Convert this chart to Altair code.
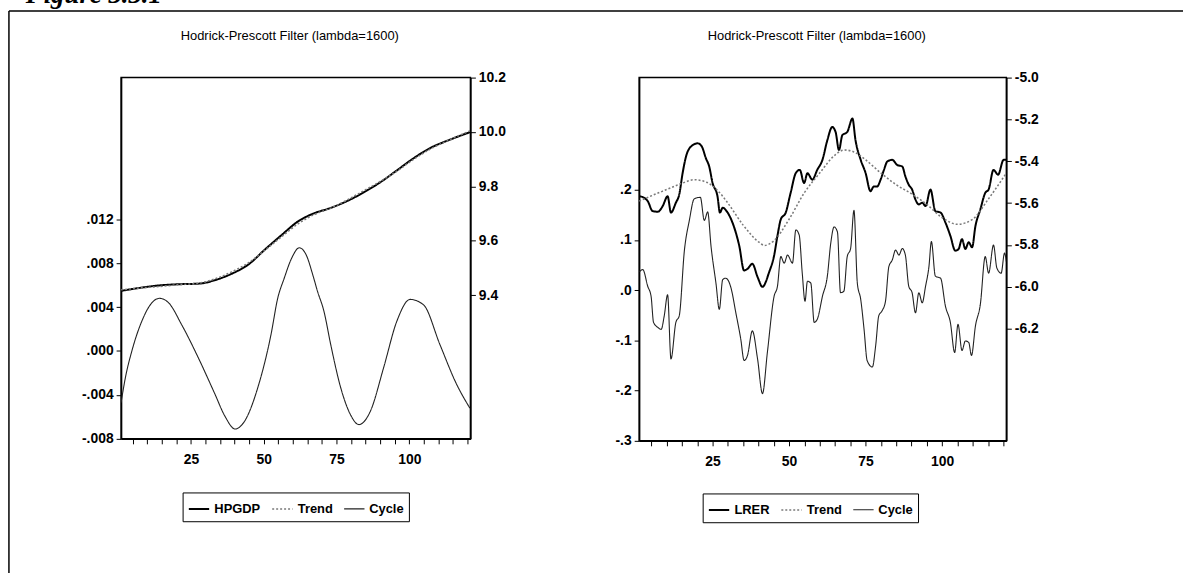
import altair as alt
import pandas as pd

TITLE = "Hodrick-Prescott Filter (lambda=1600)"
FIG_LABEL = "Figure 3.3.1"
FONT = "Liberation Sans Narrow, Arial Narrow, Liberation Sans, Arial"

# ---------------- Left panel: HPGDP ----------------
gdp_obs = [1, 8, 14, 20, 28, 34, 39, 45, 50, 56, 62, 67, 73, 79, 84, 90, 96, 101, 107, 114, 121]
gdp_val = [9.416, 9.428, 9.436, 9.440, 9.443, 9.458, 9.479, 9.515, 9.564, 9.620, 9.673,
           9.700, 9.721, 9.748, 9.776, 9.815, 9.861, 9.900, 9.940, 9.972, 10.0]

gdp_trend_obs = [1, 8, 14, 20, 28, 34, 39, 45, 50, 56, 62, 67, 73, 79, 84, 90, 96, 101, 107, 114, 121]
gdp_trend_val = [9.420, 9.427, 9.432, 9.438, 9.445, 9.463, 9.486, 9.521, 9.562, 9.614, 9.664,
                 9.695, 9.720, 9.752, 9.782, 9.818, 9.858, 9.896, 9.936, 9.972, 10.005]

gdp_cycle_obs = [1, 2.5, 4.7, 8.1, 11.6, 14.2, 17.3, 21.8, 27.5, 33.2, 36.6, 40.2, 43.4, 48.0,
                 52.5, 54.8, 57.0, 59.5, 62.2, 64.5, 67.0, 68.4, 70.7, 73.0, 76.4, 79.8, 82.7,
                 86.6, 91.2, 95.7, 100.3, 104.9, 110.5, 116.2, 120.8]
gdp_cycle_val = [-0.0047, -0.0024, 0.0000, 0.0027, 0.0044, 0.0048, 0.0044, 0.0024, -0.0006,
                 -0.0039, -0.0059, -0.0071, -0.0064, -0.0033, 0.0015, 0.0048, 0.0066, 0.0084,
                 0.0094, 0.0088, 0.0068, 0.0055, 0.0036, 0.0006, -0.0033, -0.0058, -0.0067,
                 -0.0055, -0.0015, 0.0027, 0.0047, 0.0042, 0.0006, -0.0030, -0.0052]

# ---------------- Right panel: LRER ----------------
rer_obs = [1.1, 2.7, 3.8, 5.4, 7.1, 8.7, 10.3, 11.4, 13.0, 14.1,
           15.2, 16.3, 17.9, 20.1, 21.5, 22.8, 23.9, 25.0, 26.6, 27.4,
           28.3, 29.9, 31.5, 33.7, 35.3, 36.4, 38.0, 39.7, 41.3, 43.5,
           45.1, 46.2, 47.3, 48.9, 50.5, 52.2, 53.5, 54.9, 56.0, 57.6,
           59.2, 60.9, 62.5, 64.1, 65.2, 66.3, 67.4, 69.0, 70.7, 71.7,
           73.4, 75.0, 76.6, 77.7, 78.8, 79.9, 81.0, 82.1, 83.7, 85.3,
           87.0, 88.0, 89.1, 90.2, 91.3, 92.4, 93.5, 94.6, 96.2, 97.8,
           99.5, 101.1, 102.7, 104.3, 105.4, 106.5, 107.6, 108.7, 109.8, 110.9,
           112.5, 114.1, 115.2, 116.8, 118.3, 120.1, 121.0]
rer_val = [-5.567, -5.575, -5.590, -5.638, -5.641, -5.614, -5.567, -5.645, -5.598, -5.559,
           -5.457, -5.378, -5.330, -5.314, -5.330, -5.385, -5.425, -5.504, -5.567, -5.645,
           -5.622, -5.645, -5.693, -5.803, -5.922, -5.914, -5.890, -5.953, -6.000, -5.929,
           -5.851, -5.756, -5.677, -5.645, -5.551, -5.456, -5.441, -5.504, -5.457, -5.488,
           -5.441, -5.393, -5.299, -5.236, -5.260, -5.346, -5.275, -5.260, -5.196, -5.299,
           -5.393, -5.456, -5.543, -5.520, -5.520, -5.488, -5.441, -5.401, -5.393, -5.417,
           -5.425, -5.472, -5.512, -5.535, -5.583, -5.606, -5.598, -5.614, -5.535, -5.638,
           -5.645, -5.693, -5.756, -5.827, -5.819, -5.772, -5.819, -5.787, -5.811, -5.709,
           -5.630, -5.551, -5.535, -5.441, -5.464, -5.393, -5.393]

rer_trend_obs = [1, 5, 10, 15, 19, 23, 27, 30, 35, 40, 42, 45, 50, 55, 60, 65, 68, 71,
                 75, 80, 85, 90, 95, 100, 105, 110, 115, 121]
rer_trend_val = [-5.590, -5.565, -5.535, -5.505, -5.488, -5.500, -5.545, -5.600, -5.705,
                 -5.785, -5.802, -5.780, -5.677, -5.550, -5.456, -5.370, -5.346, -5.354,
                 -5.393, -5.456, -5.512, -5.555, -5.606, -5.669, -5.701, -5.677, -5.583, -5.456]

rer_cycle_obs = [1.1, 2.2, 3.8, 4.9, 5.7, 7.1, 8.2, 9.2, 10.3, 11.4,
                 13.0, 14.1, 15.8, 17.4, 19.0, 21.0, 22.3, 23.4, 24.5, 26.1,
                 27.2, 28.3, 29.3, 31.0, 32.6, 34.2, 35.3, 36.4, 38.0, 39.7,
                 41.3, 42.9, 45.1, 46.2, 47.3, 48.4, 49.5, 51.1, 52.2, 53.3,
                 54.3, 55.2, 56.0, 57.1, 58.2, 59.2, 60.9, 62.5, 63.6, 64.7,
                 65.8, 66.8, 67.9, 69.0, 70.1, 71.2, 72.3, 73.4, 74.5, 75.5,
                 77.2, 78.3, 79.3, 80.4, 81.5, 82.6, 83.7, 84.8, 85.9, 87.0,
                 88.0, 89.1, 90.2, 91.3, 92.4, 93.5, 94.6, 95.7, 96.5, 97.8,
                 99.5, 101.1, 102.7, 104.1, 105.2, 106.5, 107.6, 108.7, 109.6, 110.9,
                 112.5, 114.1, 115.2, 116.8, 117.9, 119.3, 120.4, 121.0]
rer_cycle_val = [0.037, 0.041, 0.008, -0.012, -0.064, -0.074, -0.078, -0.051, -0.009, -0.137,
                 -0.064, -0.051, 0.080, 0.139, 0.182, 0.185, 0.139, 0.156, 0.087, 0.014,
                 -0.038, 0.021, 0.024, 0.005, -0.045, -0.097, -0.140, -0.130, -0.081, -0.137,
                 -0.206, -0.124, -0.012, 0.008, 0.067, 0.054, 0.070, 0.054, 0.120, 0.110,
                 0.034, -0.022, 0.018, 0.014, -0.064, -0.058, -0.012, 0.028, 0.093, 0.126,
                 0.116, -0.005, -0.002, 0.067, 0.083, 0.159, 0.014, -0.018, -0.078, -0.140,
                 -0.153, -0.110, -0.051, -0.041, -0.022, 0.047, 0.060, 0.080, 0.070, 0.083,
                 0.070, 0.008, -0.005, -0.045, -0.005, -0.025, 0.008, 0.047, 0.097, 0.028,
                 0.024, -0.032, -0.064, -0.124, -0.068, -0.120, -0.101, -0.104, -0.130, -0.071,
                 -0.028, 0.067, 0.034, 0.090, 0.044, 0.034, 0.074, 0.057]

# axis ticks
x_ticks = list(range(5, 121, 5))
gdp_left_ticks = [-0.008, -0.004, 0.0, 0.004, 0.008, 0.012]
gdp_right_ticks = [9.4, 9.6, 9.8, 10.0, 10.2]
rer_left_ticks = [-0.3, -0.2, -0.1, 0.0, 0.1, 0.2]
rer_right_ticks = [-6.2, -6.0, -5.8, -5.6, -5.4, -5.2, -5.0]

MINUS_FIX = "replace(%s, '\u2212', '-')"


def series_df(obs, vals, name):
    return pd.DataFrame({"obs": obs, "value": vals, "series": name})


one = pd.DataFrame({"k": [0]})


def panel(level_name, lvl, trend, cyc, left_dom, left_ticks, left_fmt,
          right_dom, right_ticks, width, height, legend_x, legend_y, extra=()):
    domain = [level_name, "Trend", "Cycle"]
    leg = alt.Legend(orient="none", legendX=legend_x, legendY=legend_y,
                     direction="horizontal", title=None, strokeColor="black",
                     fillColor="white", padding=5, symbolType="stroke",
                     symbolSize=420, labelFont=FONT, labelFontSize=13,
                     labelFontWeight="bold", labelColor="black",
                     columnPadding=8, labelOffset=4)
    color = alt.Color("series:N", scale=alt.Scale(domain=domain,
                      range=["black", "#7a7a7a", "#222222"]), legend=leg)
    dash = alt.StrokeDash("series:N", scale=alt.Scale(domain=domain,
                          range=[[1, 0], [2, 2], [1, 0]]), legend=leg)
    swidth = alt.StrokeWidth("series:N", scale=alt.Scale(domain=domain,
                             range=[2.0, 1.1, 1.1]), legend=leg)
    x = alt.X("obs:Q", scale=alt.Scale(domain=[1, 121], nice=False, zero=False),
              axis=alt.Axis(values=x_ticks, title=None, format="d", labelPadding=9,
                            labelExpr="datum.value % 25 === 0 ? datum.label : ''"))

    lvl_df = pd.concat([series_df(lvl[0], lvl[1], level_name),
                        series_df(trend[0], trend[1], "Trend")])
    cyc_df = series_df(cyc[0], cyc[1], "Cycle")

    level_layer = alt.Chart(lvl_df).mark_line(clip=True, interpolate="monotone").encode(
        x=x,
        y=alt.Y("value:Q", scale=alt.Scale(domain=right_dom, nice=False, zero=False),
                axis=alt.Axis(orient="right", values=right_ticks, title=None,
                              labelExpr=MINUS_FIX % "format(datum.value, '.1f')")),
        color=color, strokeDash=dash, strokeWidth=swidth,
        order=alt.Order("obs:Q"),
    )
    cycle_layer = alt.Chart(cyc_df).mark_line(clip=True, interpolate="monotone").encode(
        x=x,
        y=alt.Y("value:Q", scale=alt.Scale(domain=left_dom, nice=False, zero=False),
                axis=alt.Axis(orient="left", values=left_ticks, title=None,
                              labelExpr=MINUS_FIX % ("replace(format(datum.value, '%s'), '0.', '.')" % left_fmt))),
        color=color, strokeDash=dash, strokeWidth=swidth,
        order=alt.Order("obs:Q"),
    )
    title = alt.Chart(one).mark_text(
        text=TITLE, font=FONT, fontSize=13, color="black", align="center",
        baseline="alphabetic",
    ).encode(x=alt.value(width / 2 - 6), y=alt.value(-38))
    return alt.layer(cycle_layer, level_layer, title, *extra).resolve_scale(
        y="independent").properties(width=width, height=height)


frame_top = alt.Chart(one).mark_rule(color="black", strokeWidth=1.5).encode(
    x=alt.value(-113), x2=alt.value(1070), y=alt.value(-67))
frame_left = alt.Chart(one).mark_rule(color="black", strokeWidth=1.5).encode(
    x=alt.value(-113), y=alt.value(-67), y2=alt.value(500))
fig_label = alt.Chart(one).mark_text(
    text=FIG_LABEL, font="Liberation Serif", fontSize=27, fontWeight="bold",
    fontStyle="italic", color="black", align="left", baseline="alphabetic",
).encode(x=alt.value(-96), y=alt.value(-75))

left = panel("HPGDP", (gdp_obs, gdp_val), (gdp_trend_obs, gdp_trend_val),
             (gdp_cycle_obs, gdp_cycle_val), [-0.008, 0.0249], gdp_left_ticks, ".3f",
             [8.872, 10.2], gdp_right_ticks, 352, 364, 62, 418,
             extra=(frame_top, frame_left, fig_label))
right = panel("LRER", (rer_obs, rer_val), (rer_trend_obs, rer_trend_val),
              (rer_cycle_obs, rer_cycle_val), [-0.3, 0.4235], rer_left_ticks, ".1f",
              [-6.736, -5.0], rer_right_ticks, 370, 366, 64, 419)

chart = alt.hconcat(left, right, spacing=170, bounds="flush").resolve_scale(
    color="independent", strokeDash="independent", strokeWidth="independent"
).properties(
    padding={"left": 7, "top": -22, "right": 0, "bottom": 0},
    background="white",
).configure_view(
    stroke="black", strokeWidth=1.5
).configure_axis(
    labelFont=FONT, labelFontSize=14, labelFontWeight="bold", labelColor="black",
    tickColor="black", domainColor="black", domainWidth=1.5, tickSize=5,
    tickWidth=1, grid=False, labelPadding=3,
)

chart.save("out.html", embed_options={"renderer": "svg", "actions": False})
